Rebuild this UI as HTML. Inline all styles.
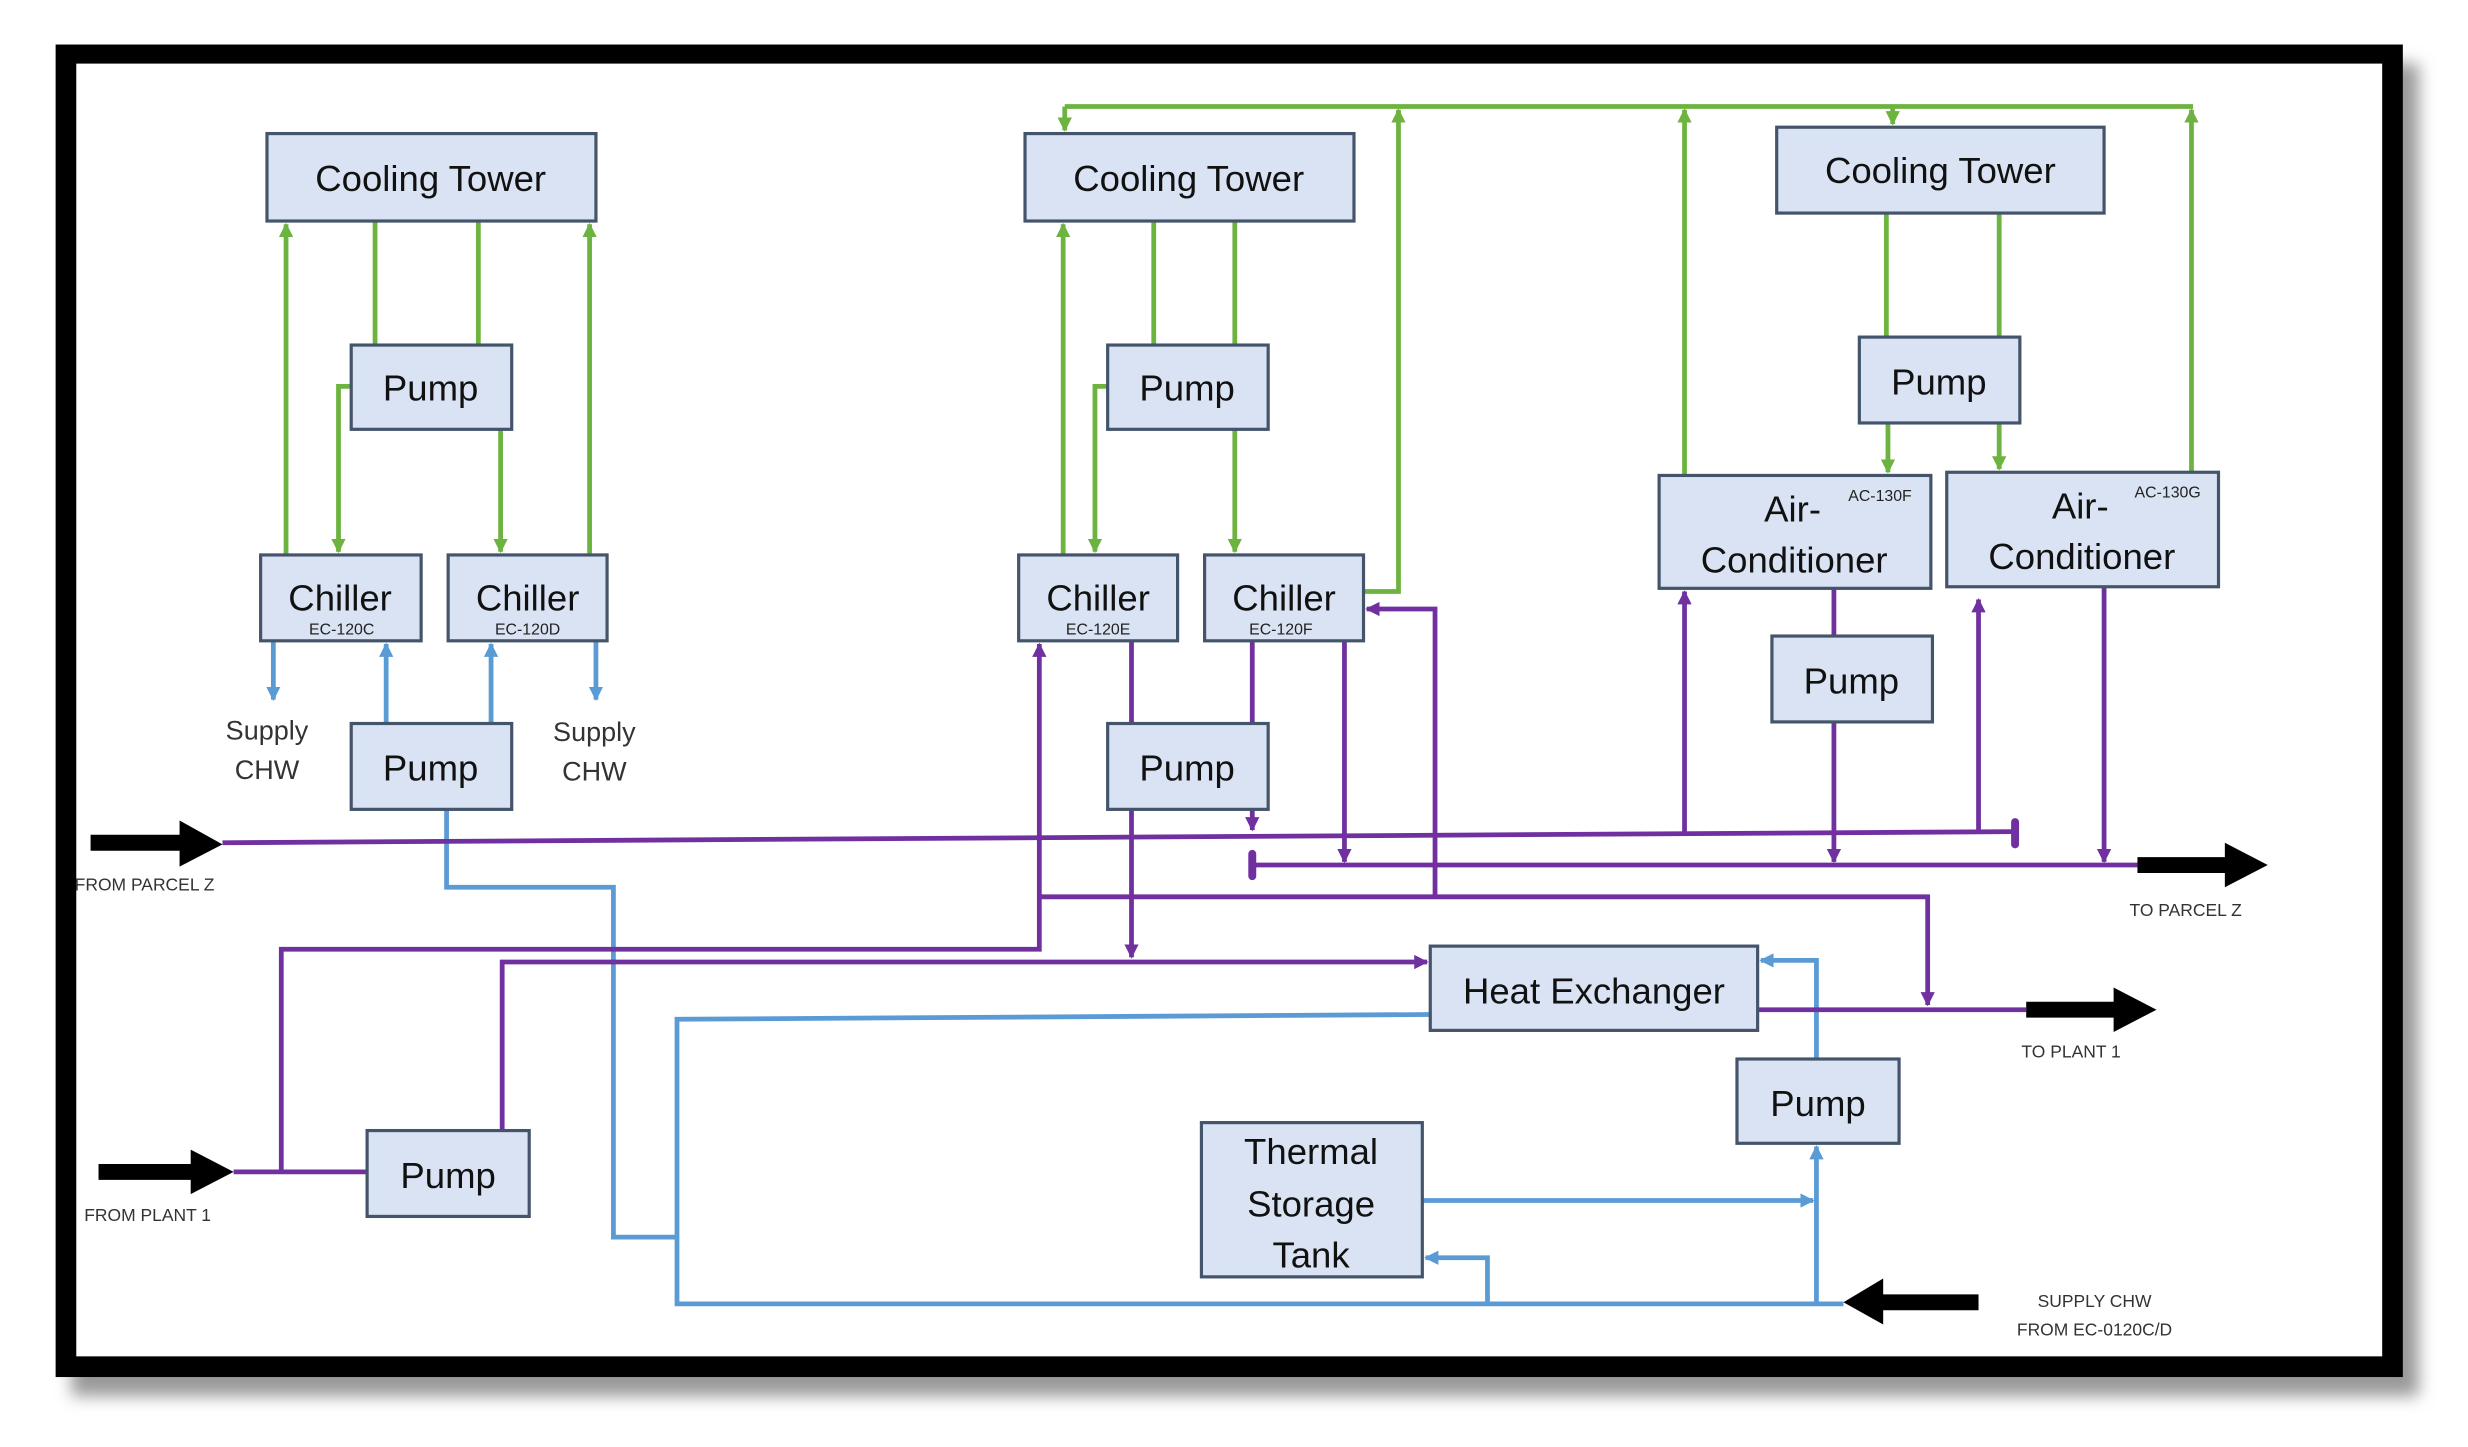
<!DOCTYPE html>
<html><head><meta charset="utf-8"><style>
html,body{margin:0;padding:0;background:#fff;}
svg{display:block;}
text{font-family:"Liberation Sans",sans-serif;}
</style></head><body>
<svg width="2468" height="1447" viewBox="0 0 1553 910" preserveAspectRatio="none" xmlns="http://www.w3.org/2000/svg">
<defs>
<marker id="g" viewBox="0 0 10 10" refX="9" refY="5" markerWidth="3" markerHeight="3" orient="auto"><path d="M0,0L10,5L0,10z" fill="#6db33f"/></marker>
<marker id="b" viewBox="0 0 10 10" refX="9" refY="5" markerWidth="3" markerHeight="3" orient="auto"><path d="M0,0L10,5L0,10z" fill="#5b9bd5"/></marker>
<marker id="p" viewBox="0 0 10 10" refX="9" refY="5" markerWidth="3" markerHeight="3" orient="auto"><path d="M0,0L10,5L0,10z" fill="#7030a0"/></marker>
<filter id="sh" x="-5%" y="-5%" width="115%" height="115%"><feGaussianBlur stdDeviation="5"/></filter>
</defs>
<!-- frame shadow -->
<rect x="45" y="40" width="1477" height="838" fill="#999" filter="url(#sh)"/>
<rect x="35" y="28" width="1477" height="838" fill="#000"/>
<rect x="48" y="40" width="1451" height="813" fill="#fff"/>

<!-- green -->
<g stroke="#6db33f" stroke-width="3" fill="none">
<path d="M180,349V141" marker-end="url(#g)"/>
<path d="M236,139V217M301,139V217"/>
<path d="M371,349V141" marker-end="url(#g)"/>
<path d="M221,243H213V347" marker-end="url(#g)"/>
<path d="M315,270V347" marker-end="url(#g)"/>
<path d="M669,349V141" marker-end="url(#g)"/>
<path d="M726,139V217M777,139V217"/>
<path d="M697,243H689V347" marker-end="url(#g)"/>
<path d="M777,270V347" marker-end="url(#g)"/>
<path d="M858,372H880V69" marker-end="url(#g)"/>
<path d="M670,67H1380"/>
<path d="M670,67V82" marker-end="url(#g)"/>
<path d="M1191,67V78" marker-end="url(#g)"/>
<path d="M1060,299V69" marker-end="url(#g)"/>
<path d="M1379,297V69" marker-end="url(#g)"/>
<path d="M1187,134V212M1258,134V212"/>
<path d="M1188,266V297" marker-end="url(#g)"/>
<path d="M1258,266V295" marker-end="url(#g)"/>
</g>

<!-- blue -->
<g stroke="#5b9bd5" stroke-width="3" fill="none">
<path d="M172,403V440" marker-end="url(#b)"/>
<path d="M243,455V405" marker-end="url(#b)"/>
<path d="M309,455V405" marker-end="url(#b)"/>
<path d="M375,403V440" marker-end="url(#b)"/>
<path d="M281,509V558H386V778H426"/>
<path d="M900,638L426,641V820H1160"/>
<path d="M936,820V791H897" marker-end="url(#b)"/>
<path d="M895,755H1141" marker-end="url(#b)"/>
<path d="M1143,820V721" marker-end="url(#b)"/>
<path d="M1143,666V604H1108" marker-end="url(#b)"/>
</g>

<!-- purple -->
<g stroke="#7030a0" stroke-width="3" fill="none">
<path d="M140,530L1268,523"/>
<path d="M1268,517V531" stroke-width="5" stroke-linecap="round"/>
<path d="M788,544H1345"/>
<path d="M788,537V551" stroke-width="5" stroke-linecap="round"/>
<path d="M177,737V597H654V405" marker-end="url(#p)"/>
<path d="M654,564H1213V632" marker-end="url(#p)"/>
<path d="M712,403V602" marker-end="url(#p)"/>
<path d="M316,711V605H898" marker-end="url(#p)"/>
<path d="M147,737H231"/>
<path d="M788,403V522" marker-end="url(#p)"/>
<path d="M846,403V542" marker-end="url(#p)"/>
<path d="M903,564V383H860" marker-end="url(#p)"/>
<path d="M1060,524V372" marker-end="url(#p)"/>
<path d="M1154,370V542" marker-end="url(#p)"/>
<path d="M1245,523V377" marker-end="url(#p)"/>
<path d="M1324,369V542" marker-end="url(#p)"/>
<path d="M1106,635H1275"/>
</g>

<!-- black arrows -->
<g fill="#000">
<path d="M57,525H113V516L140,531L113,545V535H57z"/>
<path d="M62,732H120V723L147,737L120,751V742H62z"/>
<path d="M1345,539H1400V530L1427,544L1400,558V549H1345z"/>
<path d="M1275,630H1330V621L1357,635L1330,649V640H1275z"/>
<path d="M1245,814H1185V804L1160,819L1185,833V824H1245z"/>
</g>

<!-- boxes -->
<g fill="#dae3f3" stroke="#44546a" stroke-width="2">
<rect x="168" y="84" width="207" height="55"/>
<rect x="221" y="217" width="101" height="53"/>
<rect x="164" y="349" width="101" height="54"/>
<rect x="282" y="349" width="100" height="54"/>
<rect x="221" y="455" width="101" height="54"/>
<rect x="645" y="84" width="207" height="55"/>
<rect x="697" y="217" width="101" height="53"/>
<rect x="641" y="349" width="100" height="54"/>
<rect x="758" y="349" width="100" height="54"/>
<rect x="697" y="455" width="101" height="54"/>
<rect x="1118" y="80" width="206" height="54"/>
<rect x="1170" y="212" width="101" height="54"/>
<rect x="1044" y="299" width="171" height="71"/>
<rect x="1225" y="297" width="171" height="72"/>
<rect x="1115" y="400" width="101" height="54"/>
<rect x="900" y="595" width="206" height="53"/>
<rect x="1093" y="666" width="102" height="53"/>
<rect x="756" y="706" width="139" height="97"/>
<rect x="231" y="711" width="102" height="54"/>
</g>

<g fill="#111" font-size="23" text-anchor="middle">
<text x="271" y="120">Cooling Tower</text>
<text x="271" y="252">Pump</text>
<text x="214" y="384">Chiller</text>
<text x="332" y="384">Chiller</text>
<text x="271" y="491">Pump</text>
<text x="748" y="120">Cooling Tower</text>
<text x="747" y="252">Pump</text>
<text x="691" y="384">Chiller</text>
<text x="808" y="384">Chiller</text>
<text x="747" y="491">Pump</text>
<text x="1221" y="115">Cooling Tower</text>
<text x="1220" y="248">Pump</text>
<text x="1128" y="328">Air-</text>
<text x="1129" y="360">Conditioner</text>
<text x="1309" y="326">Air-</text>
<text x="1310" y="358">Conditioner</text>
<text x="1165" y="436">Pump</text>
<text x="1003" y="631">Heat Exchanger</text>
<text x="1144" y="702">Pump</text>
<text x="825" y="732">Thermal</text>
<text x="825" y="765">Storage</text>
<text x="825" y="797">Tank</text>
<text x="282" y="747">Pump</text>
</g>
<g fill="#222" font-size="10" text-anchor="middle">
<text x="215" y="399">EC-120C</text>
<text x="332" y="399">EC-120D</text>
<text x="691" y="399">EC-120E</text>
<text x="806" y="399">EC-120F</text>
<text x="1183" y="315">AC-130F</text>
<text x="1364" y="313">AC-130G</text>
</g>
<g fill="#333" font-size="17" text-anchor="middle">
<text x="168" y="465">Supply</text>
<text x="168" y="490">CHW</text>
<text x="374" y="466">Supply</text>
<text x="374" y="491">CHW</text>
</g>
<g fill="#333" font-size="11">
<text x="47" y="560">FROM PARCEL Z</text>
<text x="1340" y="576">TO  PARCEL Z</text>
<text x="1272" y="665">TO  PLANT 1</text>
<text x="53" y="768">FROM PLANT 1</text>
<text x="1318" y="822" text-anchor="middle">SUPPLY CHW</text>
<text x="1318" y="840" text-anchor="middle">FROM EC-0120C/D</text>
</g>
</svg>
</body></html>
